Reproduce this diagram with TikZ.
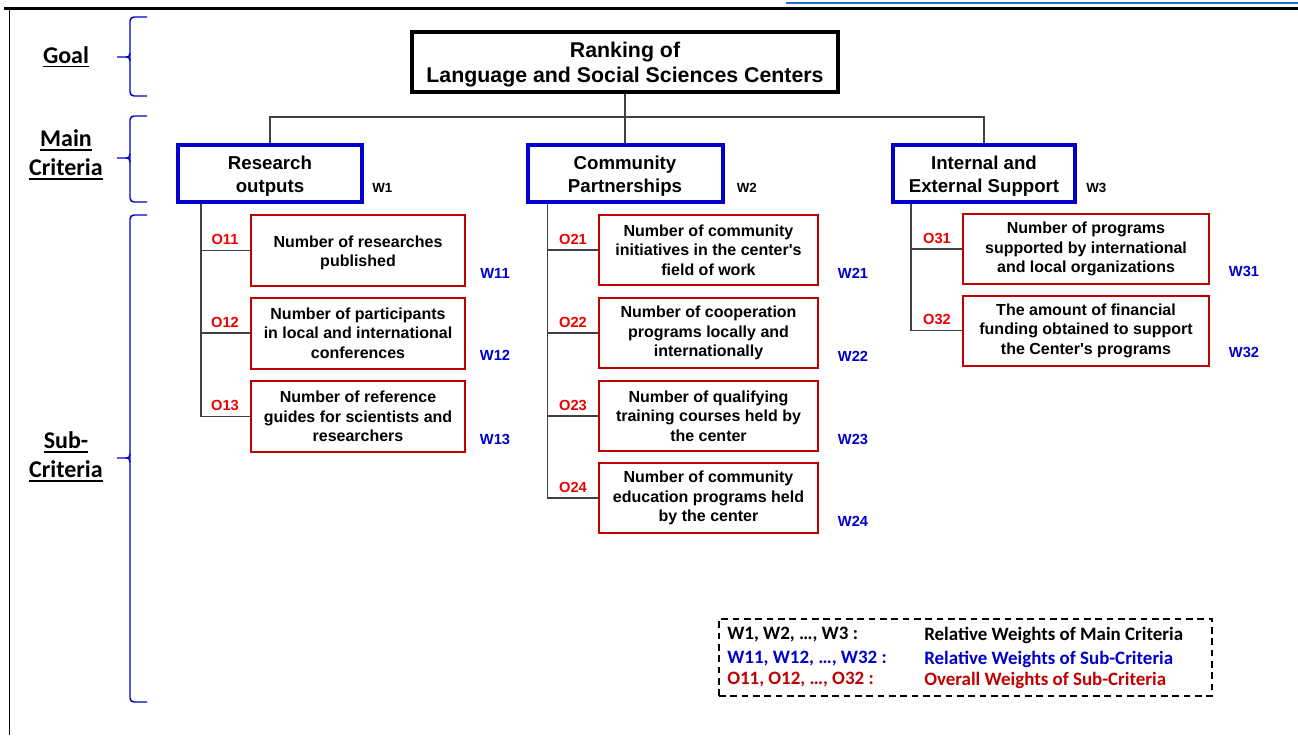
\documentclass[tikz,border=0pt]{standalone}
\usepackage{fontspec}
\setmainfont{Liberation Sans}
\newfontfamily\calibrifont{Carlito}
\usetikzlibrary{calc}

\definecolor{critblue}{RGB}{0,0,204}
\definecolor{subred}{RGB}{192,0,0}
\definecolor{olabred}{RGB}{235,0,0}
\definecolor{linkblue}{RGB}{31,111,197}

\newsavebox\ulsave
\newcommand\ulbar[1]{\sbox\ulsave{#1}\rlap{\rule[-3pt]{\wd\ulsave}{1.2pt}}\usebox\ulsave}
\newcommand\topstrut[1]{\rule{0pt}{#1}}

\begin{document}
\begin{tikzpicture}[x=0.75pt,y=-0.75pt,
  goalbox/.style={draw=black, line width=3pt, fill=white, align=center,
    minimum width=319.5pt, minimum height=45pt, inner sep=0pt,
    font=\bfseries\fontsize{16}{18.75}\selectfont},
  critbox/.style={draw=critblue, line width=3pt, fill=white, align=center,
    minimum height=42.75pt, inner sep=0pt,
    font=\bfseries\fontsize{14}{17.25}\selectfont},
  subbox/.style={draw=subred, line width=1.5pt, fill=white, align=center,
    minimum height=52.5pt, inner sep=0pt,
    font=\bfseries\fontsize{12}{14.6}\selectfont},
  wmain/.style={anchor=west, inner sep=0pt, font=\bfseries\fontsize{10}{12}\selectfont},
  wsub/.style={inner sep=0pt, text=critblue, font=\bfseries\fontsize{11}{13}\selectfont},
  olab/.style={inner sep=0pt, text=olabred, font=\bfseries\fontsize{11}{13}\selectfont},
  conn/.style={draw=black!75, line width=0.8pt},
  brace/.style={draw=critblue, line width=1.1pt, rounded corners=3pt},
  level/.style={align=center, inner sep=0pt,
    font=\calibrifont\bfseries\fontsize{18}{21.75}\selectfont},
  legtxt/.style={anchor=west, inner sep=0pt,
    font=\calibrifont\bfseries\fontsize{14.2}{16}\selectfont}
]
\useasboundingbox (0,0) rectangle (1298,735);

% page rules
\draw[linkblue, line width=1.5pt] (786,3) -- (1298,3);
\draw[black, line width=2.4pt] (4,8.5) -- (1298,8.5);
\draw[black, line width=1.3pt] (9.5,8.5) -- (9.5,735);

% level labels
\node[level] (lgoal) at (66,57) {\ulbar{Goal}};
\node[level] (lmain) at (66,155) {\ulbar{Main}\\\ulbar{Criteria}};
\node[level] (lsub) at (66,457) {\ulbar{Sub-}\\\ulbar{Criteria}};

% braces
\draw[brace] (147,17) -- (130,17) -- (130,96) -- (147,96);
\draw[brace, rounded corners=0pt] (117,57) -- (126,57) .. controls (129,57) .. (130,53);
\draw[brace, rounded corners=0pt] (126,57) .. controls (129,57) .. (130,61);

\draw[brace] (147,116) -- (130,116) -- (130,202) -- (147,202);
\draw[brace, rounded corners=0pt] (117,158) -- (126,158) .. controls (129,158) .. (130,154);
\draw[brace, rounded corners=0pt] (126,158) .. controls (129,158) .. (130,162);

\draw[brace] (147,215) -- (130,215) -- (130,702) -- (147,702);
\draw[brace, rounded corners=0pt] (117,458) -- (126,458) .. controls (129,458) .. (130,454);
\draw[brace, rounded corners=0pt] (126,458) .. controls (129,458) .. (130,462);

% goal and main criteria
\node[goalbox] (goal) at (625,62) {\topstrut{15.5pt}Ranking of\\Language and Social Sciences Centers};
\node[critbox, minimum width=138pt] (m1) at (270,173.5) {\topstrut{14pt}Research\\outputs};
\node[critbox, minimum width=146.25pt] (m2) at (625,173.5) {\topstrut{14pt}Community\\Partnerships};
\node[critbox, minimum width=136.5pt] (m3) at (984,173.5) {\topstrut{14pt}Internal and\\External Support};

\coordinate (hub) at (625,117);
\draw[conn] (goal.south) -- (m2.north);
\draw[conn] (m1.north) |- (hub) -| (m3.north);

\node[wmain] (w1) at ($(m1.south east)+(8,-16)$) {W1};
\node[wmain] (w2) at ($(m2.south east)+(12,-16)$) {W2};
\node[wmain] (w3) at ($(m3.south east)+(9,-16)$) {W3};

% sub-criteria, column 1
\node[subbox, minimum width=160.5pt, minimum height=53.25pt] (s11) at (358,250.5) {\topstrut{12pt}Number of researches\\published};
\node[subbox, minimum width=160.5pt, minimum height=53.25pt] (s12) at (358,333) {Number of participants\\in local and international\\conferences};
\node[subbox, minimum width=160.5pt, minimum height=53.25pt] (s13) at (358,416.5) {Number of reference\\guides for scientists and\\researchers};

% sub-criteria, column 2
\node[subbox, minimum width=164.25pt] (s21) at (708.5,250) {Number of community\\initiatives in the center\textquotesingle s\\field of work};
\node[subbox, minimum width=164.25pt] (s22) at (708.5,333) {Number of cooperation\\programs locally and\\internationally};
\node[subbox, minimum width=164.25pt] (s23) at (708.5,416) {Number of qualifying\\training courses held by\\the center};
\node[subbox, minimum width=164.25pt] (s24) at (708.5,498) {Number of community\\education programs held\\by the center};

% sub-criteria, column 3
\node[subbox, minimum width=184.5pt] (s31) at (1086,249) {Number of programs\\supported by international\\and local organizations};
\node[subbox, minimum width=184.5pt] (s32) at (1086,330.5) {The amount of financial\\funding obtained to support\\the Center\textquotesingle s programs};

% trunks and branches
\coordinate (t1) at ($(m1.south west)+(25,0)$);
\coordinate (t2) at ($(m2.south west)+(22,0)$);
\coordinate (t3) at ($(m3.south west)+(20,0)$);
\foreach \s in {s11,s12,s13} \draw[conn] (t1) |- (\s.west);
\foreach \s in {s21,s22,s23,s24} \draw[conn] (t2) |- (\s.west);
\foreach \s in {s31,s32} \draw[conn] (t3) |- (\s.west);

% overall weight labels
\node[olab] (o11) at ($(s11.west)+(-25,-11)$) {O11};
\node[olab] (o12) at ($(s12.west)+(-25,-11)$) {O12};
\node[olab] (o13) at ($(s13.west)+(-25,-11)$) {O13};
\node[olab] (o21) at ($(s21.west)+(-25,-11)$) {O21};
\node[olab] (o22) at ($(s22.west)+(-25,-11)$) {O22};
\node[olab] (o23) at ($(s23.west)+(-25,-11)$) {O23};
\node[olab] (o24) at ($(s24.west)+(-25,-11)$) {O24};
\node[olab] (o31) at ($(s31.west)+(-25,-11)$) {O31};
\node[olab] (o32) at ($(s32.west)+(-25,-11)$) {O32};

% relative weight labels
\node[wsub] (w11) at ($(s11.south east)+(29,-14)$) {W11};
\node[wsub] (w12) at ($(s12.south east)+(29,-14)$) {W12};
\node[wsub] (w13) at ($(s13.south east)+(29,-14)$) {W13};
\node[wsub] (w21) at ($(s21.south east)+(34,-13)$) {W21};
\node[wsub] (w22) at ($(s22.south east)+(34,-13)$) {W22};
\node[wsub] (w23) at ($(s23.south east)+(34,-13)$) {W23};
\node[wsub] (w24) at ($(s24.south east)+(34,-13)$) {W24};
\node[wsub] (w31) at ($(s31.south east)+(34,-14)$) {W31};
\node[wsub] (w32) at ($(s32.south east)+(34,-14)$) {W32};

% legend
\node[draw=black, line width=1.1pt, dash pattern=on 5pt off 3.5pt,
      minimum width=369.75pt, minimum height=57.75pt, inner sep=0pt] (legend) at (965.5,657.5) {};
\node[legtxt] (k1) at (727,635) {W1, W2, …, W3 :};
\node[legtxt, text=critblue] (k2) at (727,659) {W11, W12, …, W32 :};
\node[legtxt, text=subred] (k3) at (727,680) {O11, O12, …, O32 :};
\node[legtxt] (d1) at (924,635) {Relative Weights of Main Criteria};
\node[legtxt, text=critblue] (d2) at (924,659) {Relative Weights of Sub-Criteria};
\node[legtxt, text=subred] (d3) at (924,680) {Overall Weights of Sub-Criteria};
\end{tikzpicture}
\end{document}
